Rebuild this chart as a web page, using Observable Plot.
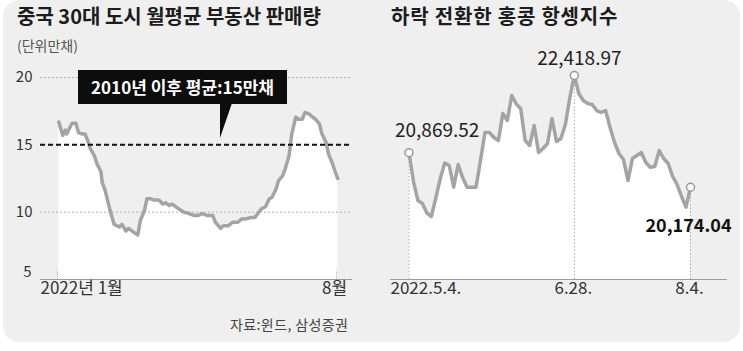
<!DOCTYPE html>
<html><head><meta charset="utf-8">
<script src="https://cdn.jsdelivr.net/npm/d3@7"></script>
<script src="https://cdn.jsdelivr.net/npm/@observablehq/plot@0.6"></script>
<style>
html,body{margin:0;padding:0;background:#fff;}
#wrap{position:relative;width:743px;height:351px;overflow:hidden;background:#fff;font-family:"Noto Sans CJK KR","Noto Sans",sans-serif;}
#card{position:absolute;left:3px;top:0;width:737px;height:342px;background:#efefef;border-radius:16px;}
.title{position:absolute;top:3px;font-size:20px;font-weight:700;color:#1c1c1c;letter-spacing:0px;white-space:nowrap;line-height:26px;}
.sub{position:absolute;left:17px;top:36px;font-size:14px;color:#555;line-height:18px;letter-spacing:0px;}
.src{position:absolute;left:230px;top:315px;font-size:14px;color:#444;line-height:18px;letter-spacing:0.4px;white-space:nowrap;}
.chart{position:absolute;top:0;}
#callout{position:absolute;left:78px;top:70px;width:209px;height:34px;background:#0d0d0d;color:#fff;font-size:17px;font-weight:700;line-height:34px;text-align:center;letter-spacing:0px;white-space:nowrap;}
#pointer{position:absolute;left:220px;top:103px;width:12px;height:35px;background:#0d0d0d;clip-path:polygon(0 0,100% 0,0 100%);}
</style>
</head><body>
<div id="wrap">
  <div id="card"></div>
  <div class="title" style="left:17px;">중국 30대 도시 월평균 부동산 판매량</div>
  <div class="sub">(단위만채)</div>
  <div class="title" style="left:391px;letter-spacing:0.8px;">하락 전환한 홍콩 항셍지수</div>
  <div class="chart" id="left" style="left:0px;"></div>
  <div class="chart" id="right" style="left:370px;"></div>
  <div id="callout">2010년 이후 평균:15만채</div>
  <div id="pointer"></div>
  <div class="src">자료:윈드, 삼성증권</div>
</div>
<script>
// ---- Left chart data: China 30-city property sales (10k units)
const salesDates = ["2022-01-02","2022-01-05","2022-01-07","2022-01-08","2022-01-12","2022-01-15","2022-01-17","2022-01-20","2022-01-22","2022-01-24","2022-01-26","2022-01-29","2022-01-31","2022-02-03","2022-02-04","2022-02-06","2022-02-08","2022-02-10","2022-02-13","2022-02-17","2022-02-19","2022-02-22","2022-02-24","2022-02-28","2022-03-03","2022-03-05","2022-03-08","2022-03-10","2022-03-13","2022-03-15","2022-03-19","2022-03-22","2022-03-24","2022-03-27","2022-03-29","2022-04-01","2022-04-03","2022-04-07","2022-04-11","2022-04-15","2022-04-18","2022-04-21","2022-04-25","2022-04-29","2022-05-01","2022-05-05","2022-05-07","2022-05-11","2022-05-14","2022-05-18","2022-05-21","2022-05-24","2022-05-28","2022-05-31","2022-06-03","2022-06-05","2022-06-08","2022-06-11","2022-06-13","2022-06-16","2022-06-18","2022-06-21","2022-06-23","2022-06-26","2022-06-28","2022-07-01","2022-07-03","2022-07-06","2022-07-08","2022-07-11","2022-07-14","2022-07-16","2022-07-19","2022-07-21","2022-07-24","2022-07-26","2022-07-29","2022-07-31","2022-08-02"];
const salesValues = [16.7,15.7,16.1,15.8,16.6,16.6,15.9,15.8,15.8,15.3,14.7,14.2,13.6,13.0,12.2,11.7,10.9,10.1,9.1,8.9,9.1,8.6,8.8,8.5,8.3,9.4,10.1,11.0,11.0,10.9,10.9,10.6,10.7,10.5,10.6,10.4,10.25,10.0,9.9,9.75,9.75,9.9,9.75,9.75,9.25,8.8,9.0,9.0,9.25,9.25,9.5,9.5,9.6,9.6,10.0,10.25,10.4,11.0,11.1,11.7,12.35,12.7,13.2,14.2,15.8,17.05,16.9,16.9,17.4,17.3,17.05,16.9,16.55,15.8,15.2,14.3,13.6,13.0,12.5];
const salesYTicks = [10, 15, 20];
const salesGrid = [10, 20];
const salesAverage = 15;
const salesYMin = 5;
const salesYMax = 20;
const salesXDomain = ["2022-01-01", "2022-08-02"];
const salesXTickDates = ["2022-01-01", "2022-08-01"];
const salesXTickLabels = ["2022년 1월", "8월"];

// ---- Right chart data: Hang Seng index, trading days 2022-05-04 .. 2022-08-04
const hsiValues = [20869.52,20289,19908,19847,19656,19586,19958,20350,20661,20611,20175,20631,20370,20175,20175,20175,20711,21274,21274,21174,21113,21656,21515,22018,21851,21751,21113,21013,21415,20872,20953,21053,21556,21093,21154,21435,21978,22418.97,22058,21917,21857,21837,21716,21676,21716,21375,21073,20852,20732,20309,20752,20812,20872,20671,20577,20591,20912,20752,20651,20390,20229,19988,19773,20174.04];
const hsiKeyIndex = [0, 37, 63];
const hsiTickLabels = ["2022.5.4.", "6.28.", "8.4."];
const hsiYMin = 18320;
const hsiYMax = 22420;

const font = '"Noto Sans CJK KR","Noto Sans",sans-serif';
const parse = d3.utcParse("%Y-%m-%d");
const sales = salesDates.map((d, i) => ({date: parse(d), value: salesValues[i]}));
const lineGray = "#a4a4a4";

const left = Plot.plot({
  width: 370, height: 300,
  marginLeft: 40, marginRight: 18, marginTop: 77, marginBottom: 21,
  style: {background: "transparent", fontFamily: font, overflow: "visible"},
  x: {type: "utc", domain: salesXDomain.map(parse), insetLeft: 17, insetRight: 14.7, axis: null},
  y: {domain: [salesYMin, salesYMax], axis: null},
  marks: [
    Plot.areaY(sales, {x: "date", y1: salesYMin, y2: "value", fill: "#ffffff"}),
    Plot.ruleY(salesGrid, {stroke: "#b0b0b0", strokeDasharray: "2,2", strokeWidth: 1}),
    Plot.ruleY([salesYMin], {stroke: "#9c9c9c", strokeWidth: 1}),
    Plot.ruleX(salesXTickDates.map(parse), {y1: salesYMin, y2: salesYMin + 0.65, stroke: "#b0b0b0", strokeDasharray: "1,1"}),
    Plot.line(sales, {x: "date", y: "value", stroke: lineGray, strokeWidth: 3.5, strokeLinejoin: "round"}),
    Plot.ruleY([salesAverage], {stroke: "#111", strokeWidth: 2, strokeDasharray: "5,3"}),
    Plot.text(salesYTicks, {y: d => d, text: d => String(d), frameAnchor: "left", textAnchor: "end", dx: -8, fontSize: 15, fill: "#333"}),
    Plot.text([salesYMin], {y: d => d, text: d => String(d), frameAnchor: "left", textAnchor: "end", dx: -9, dy: -7, fontSize: 15, fill: "#333"}),
    Plot.text([0], {x: i => parse(salesXTickDates[i]), text: i => salesXTickLabels[i], frameAnchor: "bottom", textAnchor: "start", dx: -17, dy: 14, fontSize: 17, fill: "#333"}),
    Plot.text([1], {x: i => parse(salesXTickDates[i]), text: i => salesXTickLabels[i], frameAnchor: "bottom", textAnchor: "middle", dx: -2, dy: 14, fontSize: 17, fill: "#333"})
  ]
});
document.getElementById("left").appendChild(left);

const hsi = hsiValues.map((v, i) => ({i, value: v}));
const keyPts = hsiKeyIndex.map((i, k) => ({i, value: hsiValues[i], label: hsiTickLabels[k], text: d3.format(",.2f")(hsiValues[i])}));

const right = Plot.plot({
  width: 373, height: 300,
  marginLeft: 20, marginRight: 16, marginTop: 75, marginBottom: 21,
  style: {background: "transparent", fontFamily: font, overflow: "visible"},
  x: {domain: [0, hsiValues.length - 1], insetLeft: 18.5, insetRight: 37, axis: null},
  y: {domain: [hsiYMin, hsiYMax], axis: null},
  marks: [
    Plot.areaY(hsi, {x: "i", y1: hsiYMin, y2: "value", fill: "#ffffff"}),
    Plot.ruleX(keyPts, {x: "i", y1: hsiYMin, y2: "value", stroke: "#aaaaaa", strokeDasharray: "1.5,2", strokeWidth: 1}),
    Plot.ruleY([hsiYMin], {stroke: "#9c9c9c", strokeWidth: 1}),
    Plot.line(hsi, {x: "i", y: "value", stroke: lineGray, strokeWidth: 3.5, strokeLinejoin: "round"}),
    Plot.dot(keyPts, {x: "i", y: "value", r: 4, fill: "#fff", stroke: "#999", strokeWidth: 1.5}),
    Plot.text([keyPts[0]], {x: "i", y: "value", text: "text", textAnchor: "start", dx: -14, dy: -22, fontSize: 19, fill: "#222"}),
    Plot.text([keyPts[1]], {x: "i", y: "value", text: "text", textAnchor: "middle", dx: 5, dy: -17, fontSize: 19, fill: "#222"}),
    Plot.text([keyPts[2]], {x: "i", y: "value", text: "text", textAnchor: "middle", dx: -2, dy: 39, fontSize: 18, fontWeight: 700, fill: "#111"}),
    Plot.text([keyPts[0]], {x: "i", text: "label", frameAnchor: "bottom", textAnchor: "start", dx: -18.5, dy: 14, fontSize: 17, fill: "#333"}),
    Plot.text(keyPts.slice(1), {x: "i", text: "label", frameAnchor: "bottom", textAnchor: "middle", dx: -1, dy: 14, fontSize: 17, fill: "#333"})
  ]
});
document.getElementById("right").appendChild(right);
</script>
</body></html>
